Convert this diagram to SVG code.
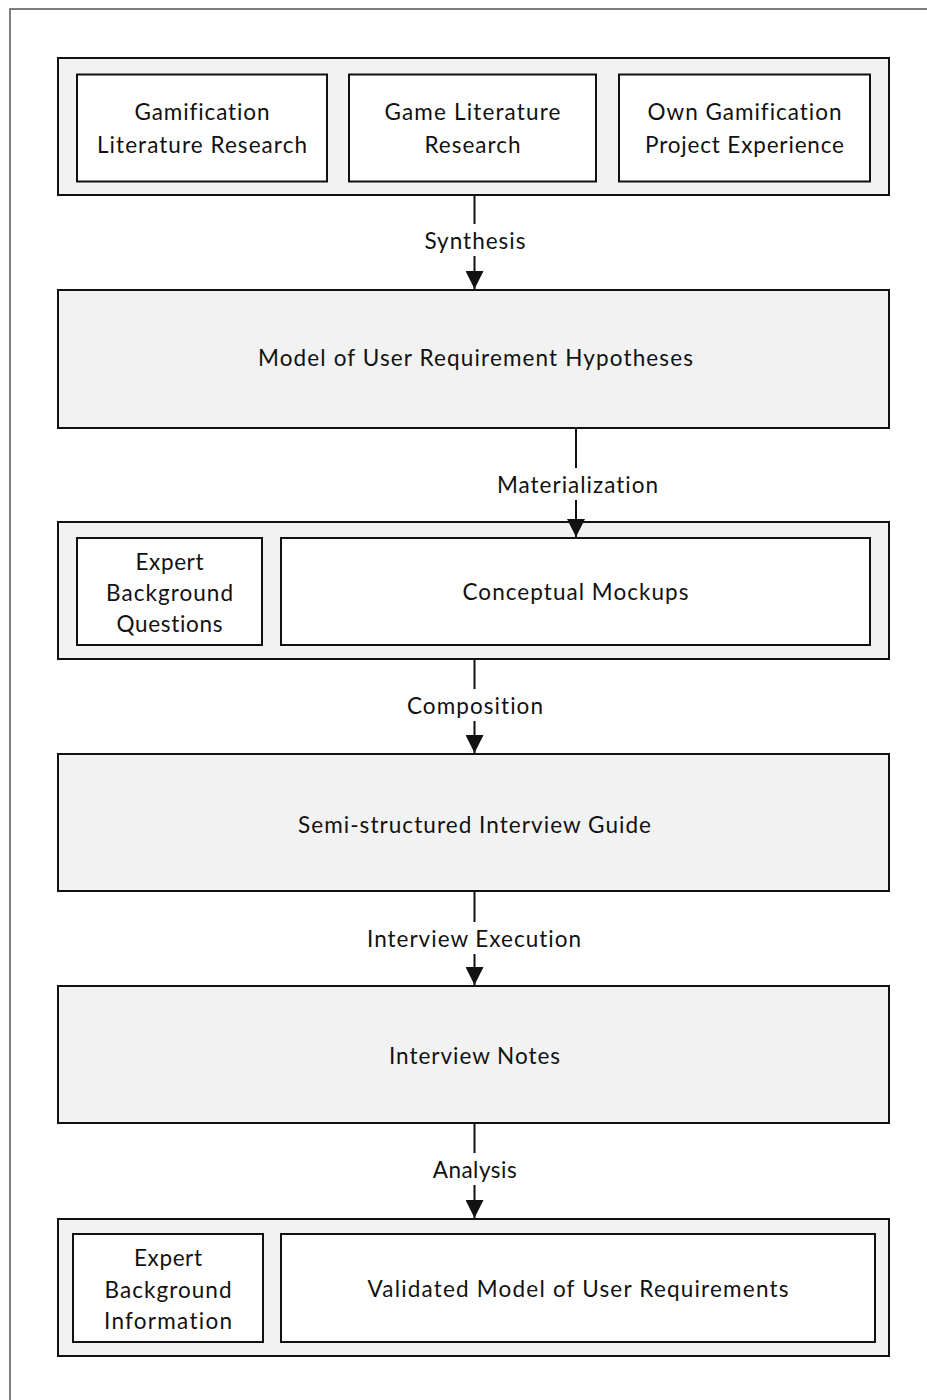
<svg xmlns="http://www.w3.org/2000/svg" width="927" height="1400" viewBox="0 0 927 1400">
  <style>
    .frame { fill: none; stroke: #555; stroke-width: 1.5; }
    .group { fill: #f2f2f2; stroke: #111; stroke-width: 2; }
    .box { fill: #fff; stroke: #111; stroke-width: 2; }
    .step { fill: #f2f2f2; stroke: #111; stroke-width: 2; }
    .edge { stroke: #111; stroke-width: 2; fill: none; }
    .lblbg { fill: #fff; }
    text { font-family: Lato, "Liberation Sans", sans-serif; font-size: 22.5px; fill: #111; text-anchor: middle; font-variant-ligatures: none; }
  </style>
  <defs>
    <marker id="arrow" markerUnits="userSpaceOnUse" markerWidth="18" markerHeight="18" viewBox="0 0 18 18" refX="18" refY="9" orient="auto">
      <path d="M0,0 L18,9 L0,18 Z" fill="#111"/>
    </marker>
  </defs>
  <rect width="927" height="1400" fill="#fff"/>
  <rect class="frame" x="10" y="9" width="1000" height="1500"/>

  <!-- sources -->
  <g id="sources">
    <rect class="group" x="58" y="58" width="831" height="137"/>
    <g id="gamification-literature">
      <rect class="box" x="77" y="74.5" width="250" height="107"/>
      <text x="202" y="120" textLength="135" lengthAdjust="spacing">Gamification</text>
      <text x="202" y="153" textLength="210" lengthAdjust="spacing">Literature Research</text>
    </g>
    <g id="game-literature">
      <rect class="box" x="349" y="74.5" width="247" height="107"/>
      <text x="472.5" y="120" textLength="176" lengthAdjust="spacing">Game Literature</text>
      <text x="472.5" y="153" textLength="96" lengthAdjust="spacing">Research</text>
    </g>
    <g id="own-experience">
      <rect class="box" x="619" y="74.5" width="251" height="107"/>
      <text x="744.5" y="120" textLength="194" lengthAdjust="spacing">Own Gamification</text>
      <text x="744.5" y="153" textLength="199" lengthAdjust="spacing">Project Experience</text>
    </g>
  </g>

  <g id="hypotheses">
    <rect class="step" x="58" y="290" width="831" height="138"/>
    <text x="475.5" y="366" textLength="435" lengthAdjust="spacing">Model of User Requirement Hypotheses</text>
  </g>

  <g id="materials">
    <rect class="group" x="58" y="522" width="831" height="137"/>
    <g id="background-questions">
      <rect class="box" x="77" y="538" width="185" height="107"/>
      <text x="169.5" y="570" textLength="68" lengthAdjust="spacing">Expert</text>
      <text x="169.5" y="601" textLength="127" lengthAdjust="spacing">Background</text>
      <text x="169.5" y="632" textLength="106" lengthAdjust="spacing">Questions</text>
    </g>
    <g id="mockups">
      <rect class="box" x="281" y="538" width="589" height="107"/>
      <text x="575.5" y="600" textLength="226" lengthAdjust="spacing">Conceptual Mockups</text>
    </g>
  </g>

  <g id="interview-guide">
    <rect class="step" x="58" y="754" width="831" height="137"/>
    <text x="474.5" y="833" textLength="353" lengthAdjust="spacing">Semi-structured Interview Guide</text>
  </g>

  <g id="interview-notes">
    <rect class="step" x="58" y="986" width="831" height="137"/>
    <text x="474.5" y="1064" textLength="171" lengthAdjust="spacing">Interview Notes</text>
  </g>

  <g id="results">
    <rect class="group" x="58" y="1219" width="831" height="137"/>
    <g id="background-information">
      <rect class="box" x="73" y="1234" width="190" height="108"/>
      <text x="168" y="1266" textLength="68" lengthAdjust="spacing">Expert</text>
      <text x="168" y="1298" textLength="127" lengthAdjust="spacing">Background</text>
      <text x="168" y="1329" textLength="128" lengthAdjust="spacing">Information</text>
    </g>
    <g id="validated-model">
      <rect class="box" x="281" y="1234" width="594" height="108"/>
      <text x="578" y="1297" textLength="421" lengthAdjust="spacing">Validated Model of User Requirements</text>
    </g>
  </g>

  <!-- connectors with their labels -->
  <g id="connectors">
    <line class="edge" x1="474.5" y1="195" x2="474.5" y2="289" marker-end="url(#arrow)"/>
    <rect class="lblbg" x="421" y="224" width="108" height="32"/>
    <text x="475" y="249" textLength="101" lengthAdjust="spacing">Synthesis</text>

    <line class="edge" x1="576" y1="428" x2="576" y2="537" marker-end="url(#arrow)"/>
    <rect class="lblbg" x="494" y="468" width="167" height="32"/>
    <text x="577.5" y="493" textLength="161" lengthAdjust="spacing">Materialization</text>

    <line class="edge" x1="474.5" y1="659" x2="474.5" y2="753" marker-end="url(#arrow)"/>
    <rect class="lblbg" x="404" y="689" width="142" height="32"/>
    <text x="475" y="714" textLength="136" lengthAdjust="spacing">Composition</text>

    <line class="edge" x1="474.5" y1="891" x2="474.5" y2="985" marker-end="url(#arrow)"/>
    <rect class="lblbg" x="364" y="922" width="220" height="32"/>
    <text x="474" y="947" textLength="214" lengthAdjust="spacing">Interview Execution</text>

    <line class="edge" x1="474.5" y1="1123" x2="474.5" y2="1218" marker-end="url(#arrow)"/>
    <rect class="lblbg" x="430" y="1153" width="90" height="32"/>
    <text x="474.7" y="1178" textLength="84" lengthAdjust="spacing">Analysis</text>
  </g>
</svg>
